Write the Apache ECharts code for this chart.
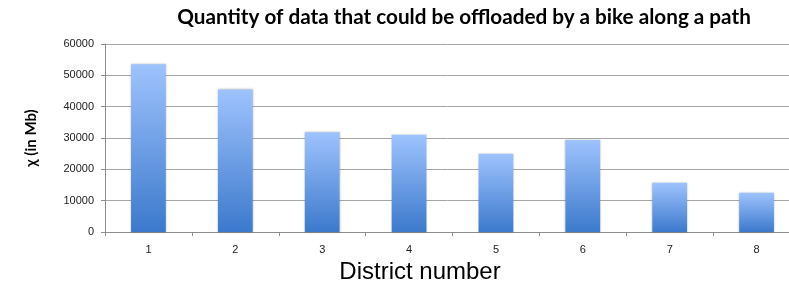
<!DOCTYPE html>
<html>
<head>
<meta charset="utf-8">
<script src="https://cdn.jsdelivr.net/npm/echarts@6/dist/echarts.min.js"></script>
<style>
  html, body { margin: 0; padding: 0; background: #fff; }
  #chart { width: 789px; height: 284px; }
</style>
</head>
<body>
<div id="chart"></div>
<script>
const districts = ['1', '2', '3', '4', '5', '6', '7', '8'];
const dataMb = [53500, 45500, 31800, 31000, 25000, 29400, 15700, 12500];
const yTicks = [0, 10000, 20000, 30000, 40000, 50000, 60000];

const myChart = echarts.init(document.getElementById('chart'));
myChart.setOption({
  animation: false,
  title: {
    text: 'Quantity of data that could be offloaded by a bike along a path',
    left: 459,
    textAlign: 'center',
    top: 2,
    textStyle: { fontFamily: 'Lato', fontWeight: 'bold', fontSize: 20.7, color: '#000' }
  },
  grid: { left: 105, right: -11, top: 44, bottom: 52, outerBoundsMode: 'none', containLabel: false },
  xAxis: {
    type: 'category',
    data: districts,
    name: 'District number',
    nameLocation: 'middle',
    nameGap: 28,
    nameTextStyle: { fontFamily: 'Liberation Sans', fontSize: 24, color: '#000', padding: [0, 65, 0, 0] },
    axisLine: { lineStyle: { color: '#8c8c8c', width: 1 } },
    axisTick: { show: true, length: 4, lineStyle: { color: '#8c8c8c' } },
    axisLabel: { fontFamily: 'Liberation Sans', fontSize: 11, color: '#222', margin: 12 }
  },
  yAxis: {
    type: 'value',
    min: yTicks[0],
    max: yTicks[yTicks.length - 1],
    interval: 10000,
    name: 'χ (in Mb)',
    nameLocation: 'middle',
    nameGap: 66,
    nameRotate: 90,
    nameTextStyle: { fontFamily: 'Lato', fontWeight: 'bold', fontSize: 15, color: '#000' },
    axisLine: { show: true, lineStyle: { color: '#8c8c8c', width: 1 } },
    axisTick: { show: true, length: 4, lineStyle: { color: '#8c8c8c' } },
    axisLabel: {
      fontFamily: 'Liberation Sans', fontSize: 11, color: '#222', margin: 11,
      formatter: (v) => String(v)
    },
    splitLine: { lineStyle: { color: '#a6a6a6', width: 1 } }
  },
  series: [{
    type: 'bar',
    data: dataMb,
    barWidth: '40%',
    itemStyle: {
      color: new echarts.graphic.LinearGradient(0, 0, 0, 1, [
        { offset: 0, color: '#9ec3fd' },
        { offset: 1, color: '#3c79cc' }
      ]),
      shadowColor: 'rgba(0,0,0,0.25)',
      shadowBlur: 2
    }
  }]
});
</script>
</body>
</html>
